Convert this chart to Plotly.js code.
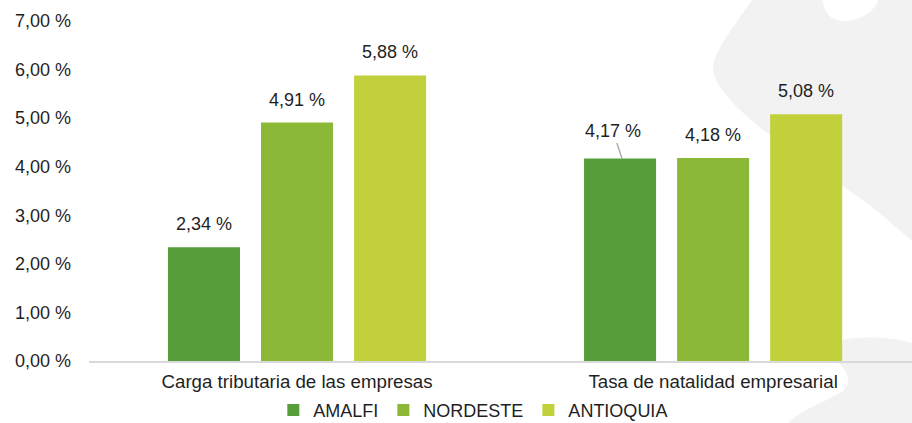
<!DOCTYPE html>
<html>
<head>
<meta charset="utf-8">
<script src="https://cdn.plot.ly/plotly-3.0.1.min.js"></script>
<style>
  html, body { margin: 0; padding: 0; background: #ffffff; }
  #chart { width: 912px; height: 423px; }
</style>
</head>
<body>
<div id="chart"></div>
<script>
// ---- data ----
const categories = ["Carga tributaria de las empresas", "Tasa de natalidad empresarial"];
const seriesNames = ["AMALFI", "NORDESTE", "ANTIOQUIA"];
const amalfi = [2.34, 4.17];
const nordeste = [4.91, 4.18];
const antioquia = [5.88, 5.08];
const yTicks = [0, 1, 2, 3, 4, 5, 6, 7];
const fmt = v => v.toFixed(2).replace(".", ",") + " %";
const yTickText = yTicks.map(fmt);

// ---- styles ----
const colors = ["#559E3A", "#8BB836", "#C2D03C"];
const W = 912, H = 423;
const M = { l: 89, r: 0, t: 21, b: 62 };
const FONT = "Liberation Sans, Arial, sans-serif";
const FS = 18;
const TXT = "#1f1f1f";

const series = [amalfi, nordeste, antioquia];
const traces = series.map((vals, i) => ({
  type: "bar",
  name: seriesNames[i],
  x: categories,
  y: vals,
  marker: { color: colors[i] },
  hoverinfo: "skip"
}));

// value labels (annotations positioned at bar tops via the axes)
const slot = (1 - 0.329) / 3;
const annotations = [];
series.forEach((vals, i) => {
  vals.forEach((v, j) => {
    const xpos = j + (i - 1) * slot;
    const leader = (i === 0 && j === 1);
    if (leader) {
      annotations.push({
        x: xpos, y: v, xref: "x", yref: "y",
        text: fmt(v), showarrow: true, arrowhead: 0, arrowwidth: 1.3,
        arrowcolor: "#a6a6a6", ax: -9, ay: -27, standoff: 0,
        xshift: 2,
        font: { family: FONT, size: FS, color: TXT }
      });
    } else {
      annotations.push({
        x: xpos, y: v, xref: "x", yref: "y",
        text: fmt(v), showarrow: false, yanchor: "middle", yshift: 23,
        font: { family: FONT, size: FS, color: TXT }
      });
    }
  });
});

// decorative background blobs (pixel -> paper coords)
const pw = W - M.l - M.r, ph = H - M.t - M.b;
const P = (x, y) => ((x - M.l) / pw).toFixed(4) + "," + ((H - M.b - y) / ph).toFixed(4);
function path(cmds) {
  return cmds.map(c => c[0] + " " + c.slice(1).map(p => P(p[0], p[1])).join(" ")).join(" ") + " Z";
}
const blob1 = path([
  ["M", [752, 0]],
  ["C", [735, 25], [713, 52], [713, 68]],
  ["C", [713, 88], [745, 118], [790, 150]],
  ["C", [830, 178], [862, 198], [877, 211]],
  ["C", [890, 222], [903, 233], [912, 241]],
  ["L", [912, 0]]
]);
const notch = path([
  ["M", [823, 0]],
  ["C", [823, 14], [833, 22], [847, 21]],
  ["C", [862, 20], [876, 10], [878, 0]]
]);
const blob2 = path([
  ["M", [843, 340]],
  ["C", [860, 336], [890, 337], [912, 343]],
  ["L", [912, 423]],
  ["L", [788, 423]],
  ["C", [800, 410], [828, 401], [843, 391]],
  ["C", [852, 383], [848, 372], [840, 364]]
]);
const shapes = [
  { type: "path", xref: "paper", yref: "paper", path: blob1, fillcolor: "#f2f2f2", line: { width: 0 }, layer: "below" },
  { type: "path", xref: "paper", yref: "paper", path: notch, fillcolor: "#ffffff", line: { width: 0 }, layer: "below" },
  { type: "path", xref: "paper", yref: "paper", path: blob2, fillcolor: "#f2f2f2", line: { width: 0 }, layer: "below" }
];

const layout = {
  width: W, height: H,
  margin: M,
  paper_bgcolor: "#ffffff",
  plot_bgcolor: "rgba(0,0,0,0)",
  barmode: "group",
  bargap: 0.329,
  bargroupgap: 0.226,
  font: { family: FONT, size: FS, color: TXT },
  showlegend: true,
  legend: {
    orientation: "h", x: 0.467, xanchor: "center",
    yref: "container", y: 0.03, yanchor: "middle",
    font: { family: FONT, size: FS, color: TXT },
    itemwidth: 30, tracegroupgap: 0, bgcolor: "rgba(0,0,0,0)", borderwidth: 0
  },
  xaxis: {
    type: "category",
    range: [-0.5, 1.478],
    showline: true, linecolor: "#d9d9d9", linewidth: 2,
    showgrid: false, zeroline: false, ticks: "",
    ticklabelstandoff: 3,
    automargin: false,
    tickfont: { family: FONT, size: 18.7, color: TXT },
    fixedrange: true
  },
  yaxis: {
    range: [0, 7],
    tickmode: "array",
    tickvals: yTicks,
    ticktext: yTickText,
    showgrid: false, zeroline: false, showline: false, ticks: "",
    ticklabelstandoff: 17,
    automargin: false,
    tickfont: { family: FONT, size: FS, color: TXT },
    fixedrange: true
  },
  annotations: annotations,
  shapes: shapes
};

Plotly.newPlot("chart", traces, layout, { displayModeBar: false, staticPlot: true });
</script>
</body>
</html>
